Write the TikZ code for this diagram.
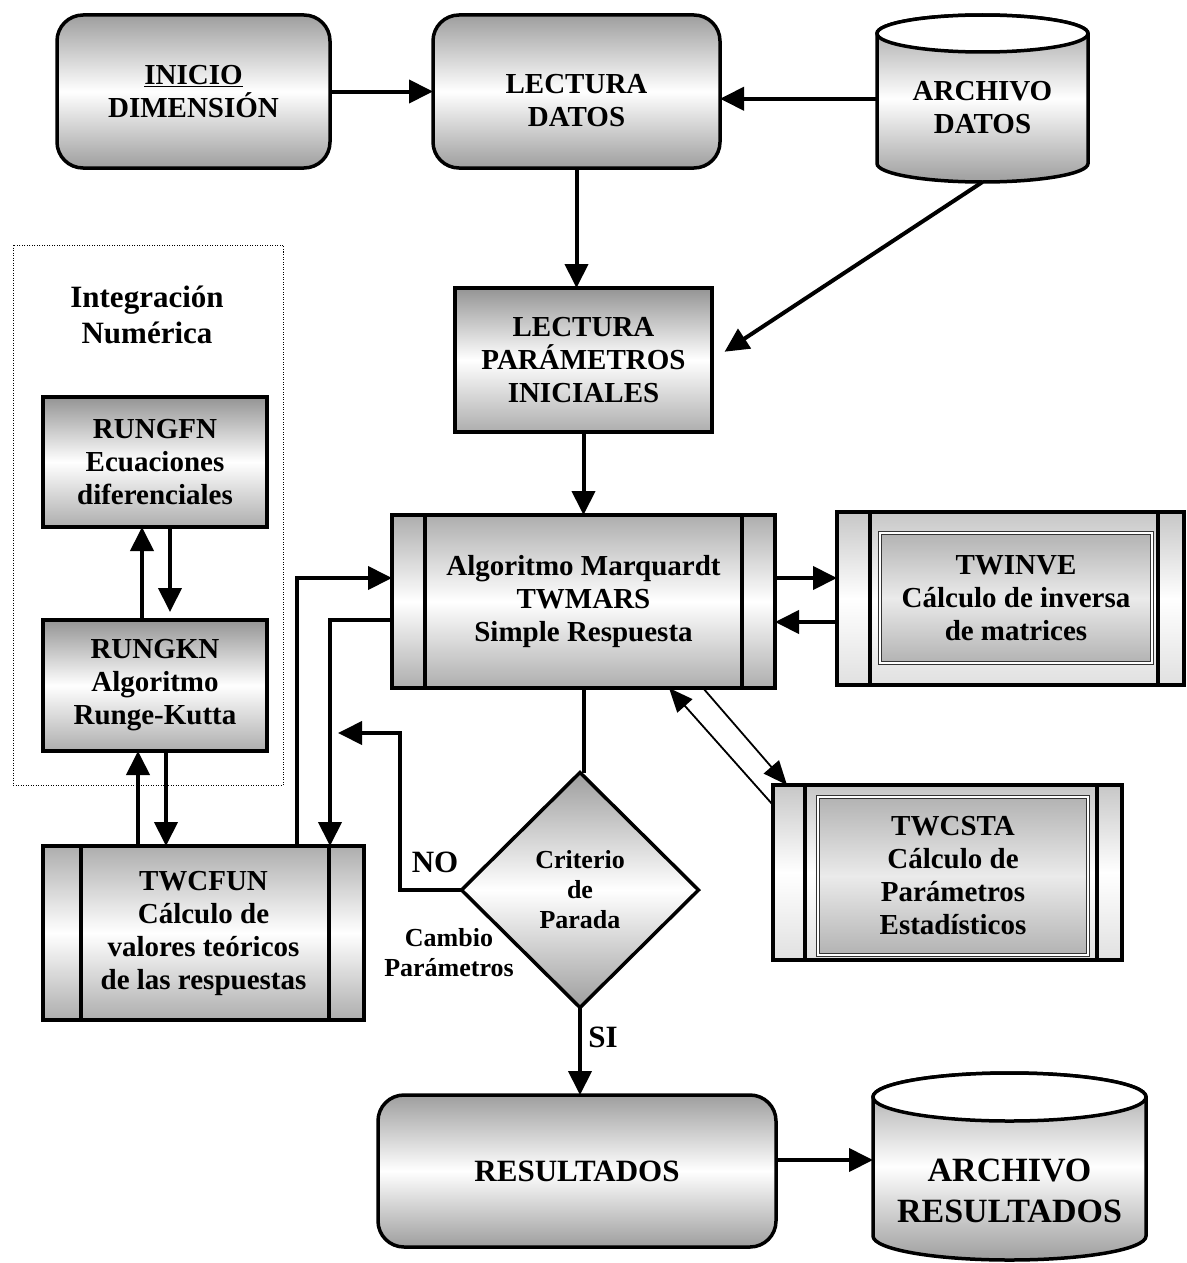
\documentclass[tikz,border=0pt]{standalone}
\usepackage{fontspec}
\setmainfont{Liberation Serif}
\usetikzlibrary{shapes.geometric, arrows.meta, positioning, backgrounds}

% cylinder drawn round a named body node: name, x radius, y radius, lift of the top ellipse
\newcommand{\cilindro}[4]{%
  \shadedraw[top color=black!38, bottom color=black!38, middle color=white, line width=3.5pt]
    ([yshift=#4]#1.north west) -- ([yshift=#3]#1.south west)
    arc[start angle=180, end angle=360, x radius=#2, y radius=#3]
    -- ([yshift=#4]#1.north east) arc[start angle=0, end angle=180, x radius=#2, y radius=#3] -- cycle;
  \filldraw[fill=white, line width=3.5pt] ([yshift=#4]#1.north) ellipse[x radius=#2, y radius=#3];
}

\begin{document}
\begin{tikzpicture}[
    x=1pt, y=1pt,
    texto/.style={font=\fontsize{29pt}{33pt}\selectfont\bfseries, align=center},
    redondo/.style={texto, rectangle, rounded corners=26pt, draw, line width=3.5pt, top color=black!38, bottom color=black!38, middle color=white, outer sep=0pt},
    caja/.style={texto, rectangle, draw, line width=3.5pt, top color=black!42, bottom color=black!32, middle color=white, outer sep=0pt},
    proceso/.style 2 args={texto, rectangle, draw, line width=3.5pt, top color=black!32, bottom color=black!32, middle color=white, outer sep=0pt,
        path picture={
            \draw[line width=4pt] ([xshift=#1]path picture bounding box.north west) -- ([xshift=#1]path picture bounding box.south west);
            \draw[line width=4pt] ([xshift=-#2]path picture bounding box.north east) -- ([xshift=-#2]path picture bounding box.south east);
        }},
    interior/.style={texto, rectangle, draw=black!80, double, double distance=2.5pt, line width=0.9pt, top color=black!30, bottom color=black!30, middle color=black!8},
    decision/.style={texto, diamond, draw, line width=3.5pt, top color=black!38, bottom color=black!38, middle color=white, inner sep=0pt, outer sep=0pt, font=\fontsize{26pt}{30pt}\selectfont\bfseries},
    archivo/.style={texto, rectangle, inner sep=0pt, outer sep=0pt},
    etiqueta/.style={texto, font=\fontsize{26pt}{30pt}\selectfont\bfseries},
    grande/.style={texto, font=\fontsize{31pt}{36pt}\selectfont\bfseries},
    flecha/.style={line width=4pt, -{Triangle[length=24pt, width=23pt]}},
    fina/.style={line width=1.8pt, -{Triangle[length=24pt, width=20pt]}}
]
    \useasboundingbox (0,0) rectangle (1186,-1263);

    % top row
    \node[redondo, minimum width=273pt, minimum height=153pt] (inicio) at (193.5,-91.5) {\underline{INICIO}\\DIMENSIÓN};
    \node[redondo, minimum width=287pt, minimum height=153pt, text height=70pt, right=103pt of inicio] (ldatos) {LECTURA\\DATOS};
    \node[archivo, minimum width=211pt, minimum height=148.5pt] (adatos) at (982.5,-107.75) {ARCHIVO\\DATOS};
    \begin{scope}[on background layer]
        \cilindro{adatos}{105.5pt}{18.5pt}{0pt}
    \end{scope}

    \node[caja, minimum width=257pt, minimum height=144pt] (lpar) at (583.5,-360) {LECTURA\\PARÁMETROS\\INICIALES};

    % integration block
    \node[draw, line width=1pt, dash pattern=on 1pt off 1.5pt, minimum width=270pt, minimum height=540pt] (marco) at (148,-515) {};
    \node[grande] (integ) at (147,-315) {Integración\\Numérica};
    \node[caja, minimum width=224pt, minimum height=130pt] (rungfn) at (155,-462) {RUNGFN\\Ecuaciones\\diferenciales};
    \node[caja, minimum width=224pt, minimum height=131pt] (rungkn) at (155,-685.5) {RUNGKN\\Algoritmo\\Runge-Kutta};

    % subroutines
    \node[proceso={33pt}{33pt}, minimum width=383pt, minimum height=173pt] (twmars) at (583.5,-601.5) {Algoritmo Marquardt\\TWMARS\\Simple Respuesta};
    \node[proceso={33pt}{26pt}, top color=black!22, bottom color=black!12, middle color=white, minimum width=347pt, minimum height=173pt] (twinve) at (1010.5,-598.5) {};
    \node[interior, minimum width=272pt, minimum height=130pt] (twinvetxt) at (1016,-598) {TWINVE\\Cálculo de inversa\\de matrices};
    \node[proceso={32pt}{25pt}, top color=black!22, bottom color=black!12, middle color=white, minimum width=349pt, minimum height=175pt] (twcsta) at (947.5,-872.5) {};
    \node[interior, minimum width=270pt, minimum height=158pt] (twcstatxt) at (953,-876) {TWCSTA\\Cálculo de\\Parámetros\\Estadísticos};
    \node[proceso={38pt}{35pt}, minimum width=321pt, minimum height=174pt] (twcfun) at (203.5,-933) {TWCFUN\\Cálculo de\\valores teóricos\\de las respuestas};

    \node[decision, minimum width=237pt, minimum height=235pt] (criterio) at (580,-890) {Criterio\\de\\Parada};
    \coordinate (retorno) at (338,-733);
    \node[grande] (no) at (435,-862) {NO};
    \node[grande] (si) at (603,-1037) {SI};
    \node[etiqueta] (cambio) at (449,-953) {Cambio\\Parámetros};

    % bottom row
    \node[redondo, minimum width=398pt, minimum height=152pt, grande] (resul) at (577,-1171) {RESULTADOS};
    \node[archivo, font=\fontsize{34pt}{41pt}\selectfont\bfseries, minimum width=273pt, minimum height=139pt] (ares) at (1009.5,-1190.5) {ARCHIVO\\RESULTADOS};
    \begin{scope}[on background layer]
        \cilindro{ares}{136.5pt}{24pt}{24pt}
    \end{scope}

    % connectors
    \draw[flecha] (inicio) -- (ldatos);
    \draw[flecha] ([yshift=9pt]adatos.west) -- ([yshift=9pt]adatos.west -| ldatos.east);
    \draw[flecha] (ldatos.south) -- (ldatos.south |- lpar.north);
    \draw[flecha, shorten >=15pt] (adatos.south) -- (lpar.east);
    \draw[flecha] (lpar) -- (twmars);
    \draw[flecha] ([yshift=23.5pt]twmars.east) -- ([yshift=23.5pt]twmars.east -| twinve.west);
    \draw[flecha] ([yshift=-20.5pt]twmars.east -| twinve.west) -- ([yshift=-20.5pt]twmars.east);
    \draw[fina] ([xshift=119.5pt]twmars.south) -- ([xshift=14pt]twcsta.north west);
    \draw[fina] ([yshift=-20pt]twcsta.north west) -- ([xshift=85.5pt]twmars.south);
    \draw[line width=4pt] (twmars.south) -- (twmars.south |- criterio.north);
    \draw[flecha] (criterio.south) -- (criterio.south |- resul.north);
    \draw[flecha] ([yshift=11pt]resul.east) -- ([yshift=11pt]resul.east -| ares.west);
    \draw[flecha] (criterio.west) -- ++(-62,0) |- (retorno);
    \draw[flecha] ([xshift=254pt]twcfun.north west) |- ([yshift=23.5pt]twmars.west);
    \draw[flecha] ([yshift=-18.5pt]twmars.west) -| ([xshift=-34pt]twcfun.north east);
    \draw[flecha] ([xshift=-13pt]rungkn.north) -- ([xshift=-13pt]rungfn.south);
    \draw[flecha, shorten >=8pt] ([xshift=15pt]rungfn.south) -- ([xshift=15pt]rungkn.north);
    \draw[flecha] ([xshift=95pt]twcfun.north west) -- ([xshift=-17pt]rungkn.south);
    \draw[flecha] ([xshift=11pt]rungkn.south) -- ([xshift=11pt]rungkn.south |- twcfun.north);
\end{tikzpicture}
\end{document}
